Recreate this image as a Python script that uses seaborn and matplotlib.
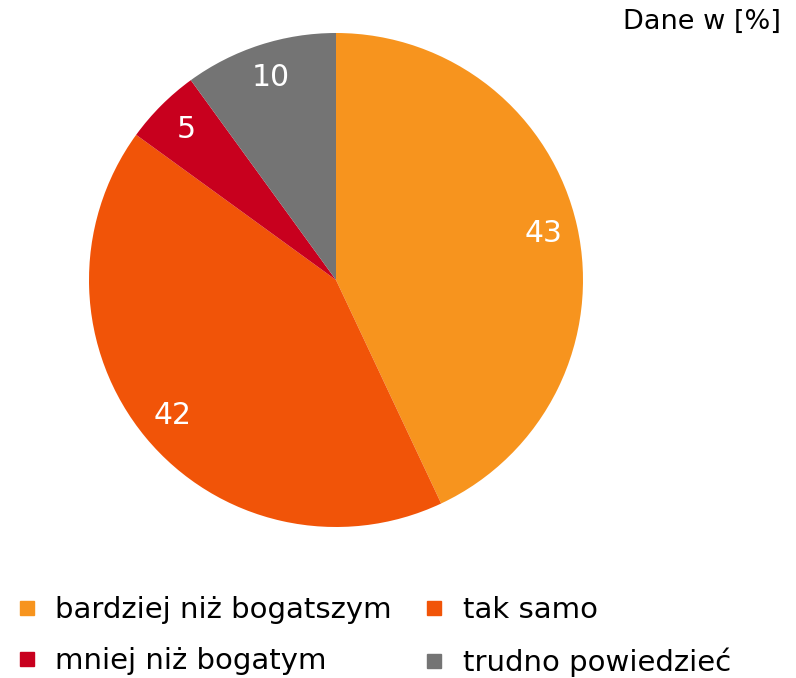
import matplotlib
matplotlib.use("Agg")
import matplotlib.pyplot as plt
from matplotlib.lines import Line2D
import seaborn as sns

# data
categories = ['bardziej niż bogatszym', 'tak samo', 'mniej niż bogatym', 'trudno powiedzieć']
values = [43, 42, 5, 10]
colors = ['#F7941E', '#F15408', '#C8001E', '#747474']

sns.set_style("white")
plt.rcParams['font.family'] = ['DejaVu Sans']
plt.rcParams['text.color'] = 'black'

fig = plt.figure(figsize=(7.96, 6.78), dpi=100)
ax = fig.add_axes([89 / 796, 1 - 527 / 678, 494 / 796, 494 / 678])

wedges, texts, autotexts = ax.pie(values, colors=colors, startangle=90, counterclock=False,
                                  autopct=lambda p: '%d' % round(p), pctdistance=0.86,
                                  wedgeprops=dict(linewidth=0),
                                  textprops=dict(color='white', fontsize=21.5))
ax.set_xlim(-1, 1)
ax.set_ylim(-1, 1)
ax.set_aspect('equal')
ax.axis('off')

fig.text(781 / 796, 1 - 29 / 678, 'Dane w [%]', ha='right', va='baseline', fontsize=19.5)

handles = [Line2D([], [], marker='s', linestyle='', markersize=9.5, color=c) for c in colors]
# legend order: row-wise like the original
order = [0, 2, 1, 3]
fig.legend([handles[i] for i in order], [categories[i] for i in order],
           loc='upper left', bbox_to_anchor=(15 / 796, 1 - 596 / 678), ncol=2,
           frameon=False, fontsize=21, handletextpad=0.58, columnspacing=1.06,
           labelspacing=0.8, handlelength=0.8, borderpad=0, borderaxespad=0)

fig.savefig('out.png', dpi=100)
